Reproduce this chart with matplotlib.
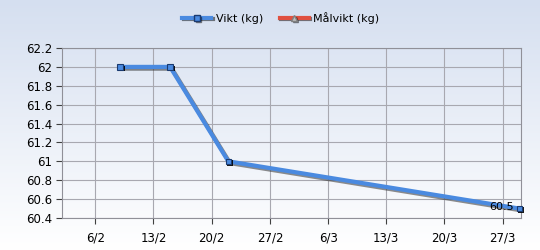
import matplotlib
matplotlib.use('Agg')
import matplotlib.pyplot as plt
import matplotlib.dates as mdates
import matplotlib.patheffects as pe
from matplotlib.lines import Line2D
from matplotlib.colors import LinearSegmentedColormap
import numpy as np
import datetime as dt

# Data
dates = [dt.date(2015, 2, 9), dt.date(2015, 2, 15), dt.date(2015, 2, 22), dt.date(2015, 3, 29)]
vikt = [62.0, 62.0, 61.0, 60.5]
tick_dates = [dt.date(2015, 2, 6), dt.date(2015, 2, 13), dt.date(2015, 2, 20), dt.date(2015, 2, 27),
              dt.date(2015, 3, 6), dt.date(2015, 3, 13), dt.date(2015, 3, 20), dt.date(2015, 3, 27)]
tick_labels = ['6/2', '13/2', '20/2', '27/2', '6/3', '13/3', '20/3', '27/3']
y_ticks = [60.4, 60.6, 60.8, 61.0, 61.2, 61.4, 61.6, 61.8, 62.0, 62.2]
y_labels = ['60.4', '60.6', '60.8', '61', '61.2', '61.4', '61.6', '61.8', '62', '62.2']

blue = '#4a8ae0'
red = '#e05040'
grid_c = '#a8a8b0'

fig = plt.figure(figsize=(5.4, 2.5), dpi=100)

# gradient background for whole figure
bg = fig.add_axes([0, 0, 1, 1], zorder=-10)
grad = np.linspace(0, 1, 256).reshape(-1, 1)
cmap = LinearSegmentedColormap.from_list('bg', ['#d5dff0', '#ffffff'])
bg.imshow(grad, aspect='auto', cmap=cmap, extent=[0, 1, 0, 1])
bg.axis('off')

ax = fig.add_axes([62 / 540, 1 - 218 / 250, (521 - 62) / 540, (218 - 48) / 250])
ax.patch.set_alpha(0)

xd = mdates.date2num(dates)
# line with a grey shadow
ax.plot(xd, vikt, color=blue, lw=3, solid_capstyle='butt', zorder=5, clip_on=False,
        path_effects=[pe.SimpleLineShadow(offset=(1.3, -1.3), shadow_color='#303030', alpha=0.55), pe.Normal()])
# square markers with a dark shadow
ax.plot(xd, vikt, ls='none', marker='s', ms=4, mfc=blue, mec='#1a3a70', mew=0.8, zorder=6, clip_on=False,
        path_effects=[pe.SimplePatchShadow(offset=(1.2, -1.2), shadow_rgbFace='black', alpha=0.9), pe.Normal()])

ax.set_xlim(mdates.date2num(dt.date(2015, 2, 2)), mdates.date2num(dt.date(2015, 3, 29)) + 0.2)
ax.set_ylim(60.4, 62.2)
ax.set_xticks(mdates.date2num(tick_dates))
ax.set_xticklabels(tick_labels)
ax.set_yticks(y_ticks)
ax.set_yticklabels(y_labels)
ax.tick_params(axis='both', labelsize=8.5, colors='#404040', labelcolor='black', length=4, width=0.8)
ax.tick_params(axis='x', pad=6)
ax.tick_params(axis='y', pad=3)
ax.grid(True, color=grid_c, lw=0.8)
ax.set_axisbelow(True)
for s in ax.spines.values():
    s.set_color('#909098')
    s.set_linewidth(0.8)

ax.annotate('60.5', (xd[-1], vikt[-1]), xytext=(-4, 1), textcoords='offset points',
            ha='right', va='center', fontsize=8, zorder=7)

handles = [
    Line2D([], [], color=blue, lw=3, marker='s', ms=4, mfc=blue, mec='#1a3a70',
           path_effects=[pe.SimpleLineShadow(offset=(1, -1), alpha=0.5), pe.Normal()]),
    Line2D([], [], color=red, lw=3, marker='^', ms=4, mfc='#c0c0c0', mec='#808080',
           path_effects=[pe.SimpleLineShadow(offset=(1, -1), alpha=0.5), pe.Normal()]),
]
fig.legend(handles, ['Vikt (kg)', 'Målvikt (kg)'], loc='center', bbox_to_anchor=(0.52, 1 - 18 / 250),
           ncol=2, frameon=False, fontsize=8, handlelength=2.6, handletextpad=0.4, columnspacing=1.5)

fig.savefig('out.png', dpi=100)
